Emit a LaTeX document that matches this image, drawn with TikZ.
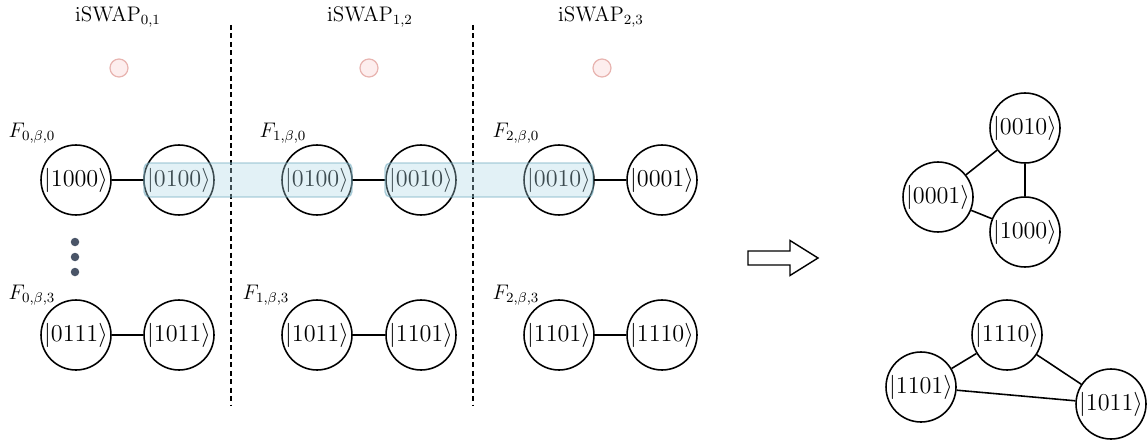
\documentclass[tikz,border=0pt]{standalone}
\usepackage{graphicx}
\usepackage{amsmath}
\newcommand{\kt}[1]{\scalebox{1.15}{$|#1\rangle$}}
\begin{document}
\begin{tikzpicture}[x=0.02cm,y=-0.02cm,
  every node/.style={font=\fontsize{12}{14}\selectfont},
  st/.style={circle,draw,line width=0.9pt,minimum size=1.4cm,inner sep=0pt},
  edge/.style={line width=0.9pt},
  sep/.style={dashed,line width=0.9pt,dash pattern=on 2.8pt off 2pt},
  reddot/.style={circle,draw={rgb,255:red,232;green,180;blue,176},fill={rgb,255:red,253;green,238;blue,238},line width=0.7pt,minimum size=0.36cm,inner sep=0pt},
  gdot/.style={circle,fill={rgb,255:red,74;green,85;blue,104},minimum size=0.17cm,inner sep=0pt},
  hl/.style={rounded corners=3pt,fill={rgb,255:red,173;green,216;blue,230},fill opacity=0.35,draw={rgb,255:red,110;green,170;blue,190},draw opacity=0.55,line width=0.8pt}
]
\useasboundingbox (0,0) rectangle (1148,442);

% separators
\coordinate (s1t) at (231,25); \coordinate (s1b) at (231,405);
\coordinate (s2t) at (473,25); \coordinate (s2b) at (473,405);
\draw[sep] (s1t) -- (s1b);
\draw[sep] (s2t) -- (s2b);

% headers
\node (h1) at (118,17) {$\mathrm{iSWAP}_{0,1}$};
\node (h2) at (370,17) {$\mathrm{iSWAP}_{1,2}$};
\node (h3) at (601,17) {$\mathrm{iSWAP}_{2,3}$};
\node[reddot] (r1) at (119,68) {};
\node[reddot] (r2) at (369,68) {};
\node[reddot] (r3) at (602,68) {};

% row labels
\node (f00) at (32,133) {$F_{0,\beta,0}$};
\node (f10) at (283,133) {$F_{1,\beta,0}$};
\node (f20) at (516,133) {$F_{2,\beta,0}$};
\node (f03) at (32,295) {$F_{0,\beta,3}$};
\node (f13) at (266,295) {$F_{1,\beta,3}$};
\node (f23) at (516,295) {$F_{2,\beta,3}$};

% row 1
\node[st] (a1) at (76,180) {\kt{1000}};
\node[st] (a2) at (179,180) {\kt{0100}};
\node[st] (b1) at (317,180) {\kt{0100}};
\node[st] (b2) at (421,180) {\kt{0010}};
\node[st] (c1) at (559,180) {\kt{0010}};
\node[st] (c2) at (662,180) {\kt{0001}};
\draw[edge] (a1) -- (a2);
\draw[edge] (b1) -- (b2);
\draw[edge] (c1) -- (c2);

% highlights
\draw[hl] (144,163) rectangle (352,197);
\draw[hl] (385,163) rectangle (593,197);

% dots
\node[gdot] (d1) at (75,242) {};
\node[gdot] (d2) at (75,257) {};
\node[gdot] (d3) at (75,272) {};

% row 2
\node[st] (p1) at (76,335) {\kt{0111}};
\node[st] (p2) at (179,335) {\kt{1011}};
\node[st] (q1) at (317,335) {\kt{1011}};
\node[st] (q2) at (421,335) {\kt{1101}};
\node[st] (u1) at (559,335) {\kt{1101}};
\node[st] (u2) at (662,335) {\kt{1110}};
\draw[edge] (p1) -- (p2);
\draw[edge] (q1) -- (q2);
\draw[edge] (u1) -- (u2);

% arrow
\draw[line width=0.8pt] (748,251) -- (790,251) -- (790,240.5) -- (818,258) -- (790,275.5) -- (790,265) -- (748,265) -- cycle;

% right graphs
\node[st] (g1) at (1025,128) {\kt{0010}};
\node[st] (g2) at (938,197) {\kt{0001}};
\node[st] (g3) at (1025,232) {\kt{1000}};
\draw[edge] (g1) -- (g2);
\draw[edge] (g1) -- (g3);
\draw[edge] (g2) -- (g3);

\node[st] (k1) at (1007,335) {\kt{1110}};
\node[st] (k2) at (921,387) {\kt{1101}};
\node[st] (k3) at (1111,404) {\kt{1011}};
\draw[edge] (k2) -- (k1);
\draw[edge] (k1) -- (k3);
\draw[edge] (k2) -- (k3);
\end{tikzpicture}
\end{document}
